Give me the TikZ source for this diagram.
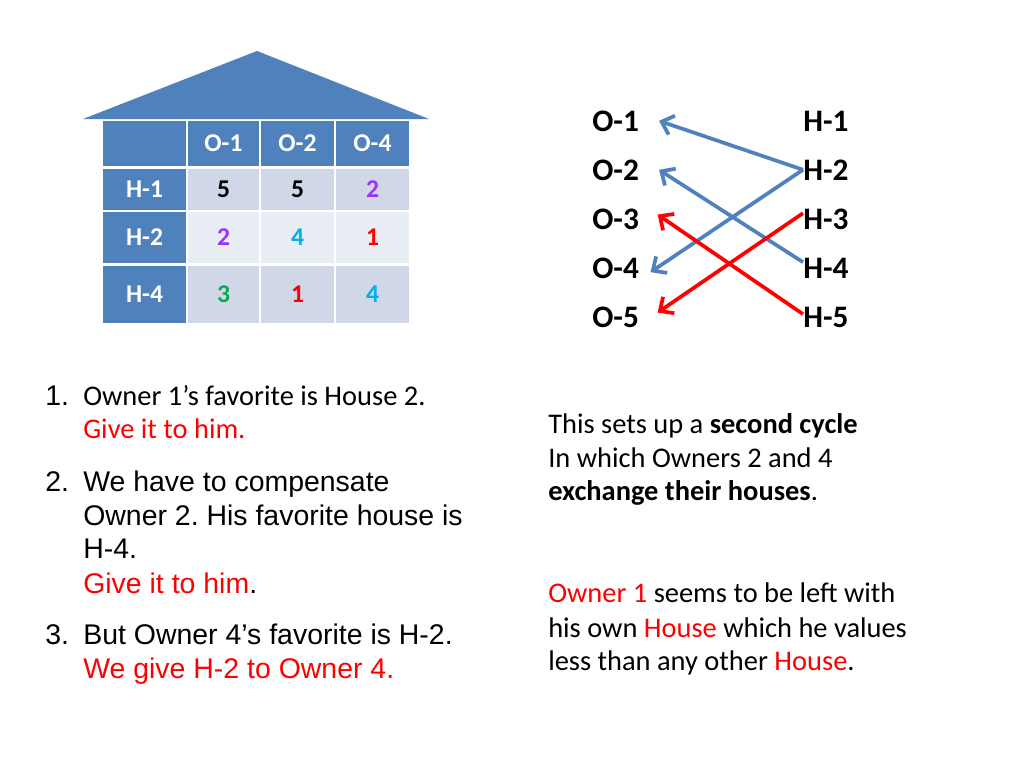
\documentclass[tikz,border=0pt]{standalone}
\usepackage{fontspec}
\setmainfont{Carlito}
\newfontfamily\arialfont{Liberation Sans}
\usetikzlibrary{arrows.meta,positioning,calc}
\definecolor{roof}{HTML}{4F81BD}
\definecolor{cellA}{HTML}{D0D8E8}
\definecolor{cellB}{HTML}{E9EDF4}
\definecolor{hotred}{HTML}{FF0000}
\definecolor{pick1}{HTML}{9933FF}
\definecolor{pick2}{HTML}{00B0F0}
\definecolor{pick3}{HTML}{00B050}
\newcommand\pxu{0.703pt}
\frenchspacing

\begin{document}
\begin{tikzpicture}[x=0.703pt,y=-0.703pt,
  cell/.style={inner sep=0,outer sep=0,font=\fontsize{18}{20}\selectfont\bfseries},
  lbl/.style={anchor=base west,inner sep=0,font=\fontsize{22}{26}\selectfont\bfseries},
  txt/.style={anchor=base west,inner sep=0,font=\fontsize{20}{24}\selectfont},
  ar/.style={anchor=base west,inner sep=0,font=\arialfont\fontsize{20}{24}\selectfont},
  gives/.style={line width=2.6pt,-{Straight Barb[length=7.5pt,width=14pt]}}]
\useasboundingbox[fill=white] (0,0) rectangle (1024,768);
\fill[roof] (83,119) -- (257,51) -- (429,119) -- cycle;
\node[cell,fill=roof,minimum width=83*\pxu,minimum height=45*\pxu] (corner) at (144.5,143.5) {};
\foreach \cx/\w/\o [count=\i] in {223.5/71/O-1,297.5/73/O-2,372.5/73/O-4}
  \node[cell,fill=roof,text=white,minimum width=\w*\pxu,minimum height=45*\pxu] (head\i) at (\cx,143.5) {\o};
\foreach \ry/\h/\hn/\bg/\a/\ca/\b/\cb/\c/\cc [count=\j] in {189.5/41/H-1/cellA/5/black/5/black/2/pick1,237.5/51/H-2/cellB/2/pick1/4/pick2/1/hotred,294.5/57/H-4/cellA/3/pick3/1/hotred/4/pick2}{
  \node[cell,fill=roof,text=white,minimum width=83*\pxu,minimum height=\h*\pxu] (row\j) at (144.5,\ry) {\hn};
  \node[cell,fill=\bg,text=\ca,minimum width=71*\pxu,minimum height=\h*\pxu] (v\j a) at (223.5,\ry) {\a};
  \node[cell,fill=\bg,text=\cb,minimum width=73*\pxu,minimum height=\h*\pxu] (v\j b) at (297.5,\ry) {\b};
  \node[cell,fill=\bg,text=\cc,minimum width=73*\pxu,minimum height=\h*\pxu] (v\j c) at (372.5,\ry) {\c};
}
\foreach \k/\yb in {1/131,2/180,3/229,4/278,5/327}{
  \node[lbl] (o\k) at (592,\yb) {O-\k};
  \node[lbl] (h\k) at (803,\yb) {H-\k};
}
\draw[gives,roof] (h2.west) -- ([xshift=14pt]o1.east);
\draw[gives,roof] (h2.west) -- ([xshift=8pt,yshift=-3pt]o4.east);
\draw[gives,roof] ([yshift=4pt]h4.west) -- ([xshift=14pt]o2.east);
\draw[gives,hotred] ([yshift=4pt]h3.west) -- ([xshift=13pt,yshift=3pt]o5.east);
\draw[gives,hotred] ([yshift=2pt]h5.west) -- ([xshift=13pt,yshift=3pt]o3.east);
\node[ar] (n1) at (45,405) {1.};
\node[txt] (t1a) at (83,405) {Owner 1’s favorite is House 2.};
\node[txt,text=hotred] (t1b) at (83,438) {Give it to him.};
\node[ar] (n2) at (45,491) {2.};
\node[ar] (t2a) at (83,491) {We have to compensate};
\node[ar] (t2b) at (83,525) {Owner 2. His favorite house is};
\node[ar] (t2c) at (83,558) {H-4.};
\node[ar] (t2d) at (83,593) {\textcolor{hotred}{Give it to him}.};
\node[ar] (n3) at (45,644) {3.};
\node[ar] (t3a) at (83,644) {But Owner 4’s favorite is H-2.};
\node[ar,text=hotred] (t3b) at (83,678) {We give H-2 to Owner 4.};
\node[txt] (s1) at (548,433) {This sets up a \textbf{second cycle}};
\node[txt] (s2) at (548,467) {In which Owners 2 and 4};
\node[txt] (s3) at (548,500) {\textbf{exchange their houses}.};
\node[txt] (r1) at (548,602) {\textcolor{hotred}{Owner 1} seems to be left with};
\node[txt] (r2) at (548,637) {his own \textcolor{hotred}{House} which he values};
\node[txt] (r3) at (548,670) {less than any other \textcolor{hotred}{House}.};
\end{tikzpicture}
\end{document}
